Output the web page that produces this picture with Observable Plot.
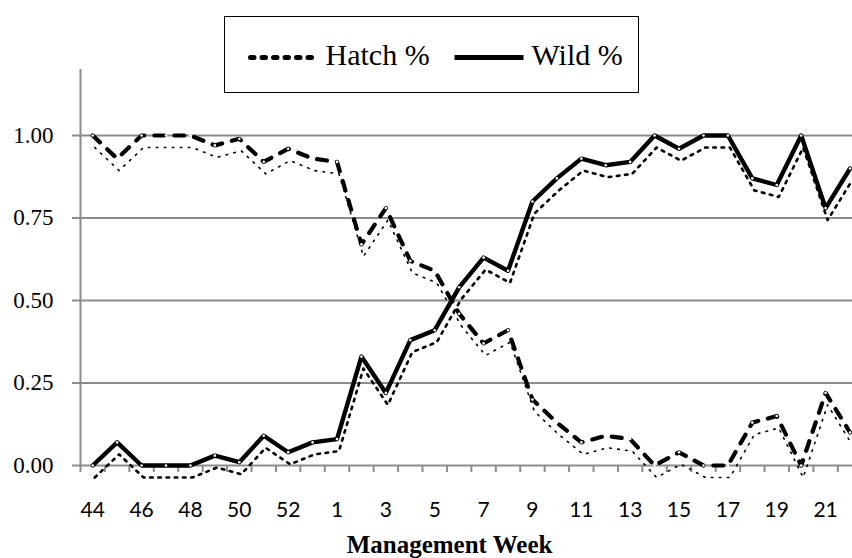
<!DOCTYPE html>
<html>
<head>
<meta charset="utf-8">
<script src="https://cdn.jsdelivr.net/npm/d3@7"></script>
<script src="https://cdn.jsdelivr.net/npm/@observablehq/plot@0.6"></script>
<style>
  html, body { margin: 0; padding: 0; background: white; }
  #wrap { position: relative; width: 852px; height: 558px; overflow: hidden; }
  #legend { position: absolute; left: 224px; top: 16px; width: 413px; height: 75px;
            border: 1.5px solid #000; background: white; box-sizing: content-box; }
  #legend svg { position: absolute; left: 0; top: 0; }
</style>
</head>
<body>
<div id="wrap">
  <div id="chart"></div>
  <div id="legend"></div>
</div>
<script>
const weeks = [44,45,46,47,48,49,50,51,52,53,1,2,3,4,5,6,7,8,9,10,11,12,13,14,15,16,17,18,19,20,21,22];
const hatch = [1.00,0.93,1.00,1.00,1.00,0.97,0.99,0.92,0.96,0.93,0.92,0.67,0.78,0.62,0.59,0.46,0.37,0.41,0.20,0.13,0.07,0.09,0.08,0.00,0.04,0.00,0.00,0.13,0.15,0.00,0.22,0.10];
const wild  = [0.00,0.07,0.00,0.00,0.00,0.03,0.01,0.09,0.04,0.07,0.08,0.33,0.22,0.38,0.41,0.54,0.63,0.59,0.80,0.87,0.93,0.91,0.92,1.00,0.96,1.00,1.00,0.87,0.85,1.00,0.78,0.90];
const yTicks = [0, 0.25, 0.5, 0.75, 1.0];
const seriesNames = ["Hatch %", "Wild %"];

const rows = weeks.map((w, i) => ({i, week: w, hatch: hatch[i], wild: wild[i]}));
const n = weeks.length;
const labelIdx = weeks.map((w, i) => i).filter(i => i % 2 === 0);
const boundaries = d3.range(n + 1).map(k => k - 0.5);
const bw = 24.43;
const grey = "#8c8c8c";

const chart = Plot.plot({
  width: 852,
  height: 558,
  marginLeft: 80,
  marginRight: 0,
  marginTop: 69,
  marginBottom: 93,
  x: {type: "linear", domain: [-0.5, n - 0.5], range: [80, 80 + n * bw], label: null},
  y: {domain: [0, 1.2], range: [465, 69], label: null, axis: null},
  style: {background: "white", overflow: "hidden"},
  marks: [
    Plot.ruleY(yTicks, {stroke: grey, strokeWidth: 2, insetLeft: -8}),
    Plot.ruleX([-0.5], {y1: 0, y2: 1.2, stroke: grey, strokeWidth: 2}),
    Plot.axisX({ticks: boundaries, tickSize: 7, tickFormat: () => "", stroke: grey, strokeWidth: 2, label: null}),
    // x tick labels
    Plot.text(labelIdx, {x: d => d, text: i => String(weeks[i]), frameAnchor: "bottom", dy: 51, lineAnchor: "bottom",
              fontSize: 21, fontFamily: "Lato", fill: "#000"}),
    // y tick labels
    Plot.text(yTicks, {y: d => d, text: d => d.toFixed(2), frameAnchor: "left", textAnchor: "end", dx: -27,
              lineAnchor: "middle", fontSize: 23, fontFamily: "Liberation Serif, Times New Roman, serif", fill: "#000"}),
    // shadows
    Plot.line(rows, {x: "i", y: "hatch", dx: 2, dy: 12, stroke: "#000", strokeWidth: 1.6, strokeDasharray: "1.6,6.4"}),
    Plot.line(rows, {x: "i", y: "wild", dx: 2, dy: 12, stroke: "#000", strokeWidth: 2.6, strokeDasharray: "2.6,5.6"}),
    // main lines
    Plot.line(rows, {x: "i", y: "hatch", stroke: "#000", strokeWidth: 4.2, strokeDasharray: "10,10", strokeLinecap: "round", strokeLinejoin: "round"}),
    Plot.line(rows, {x: "i", y: "wild", stroke: "#000", strokeWidth: 4.4, strokeLinejoin: "round"}),
    Plot.dot(rows, {x: "i", y: "hatch", r: 1.3, fill: "white", stroke: null}),
    Plot.dot(rows, {x: "i", y: "wild", r: 1.3, fill: "white", stroke: null}),
    Plot.text(["Management Week"], {frameAnchor: "bottom", text: d => d, dx: -17, dy: 87, lineAnchor: "bottom",
              fontSize: 25, fontWeight: "bold", fontFamily: "Liberation Serif", fill: "#000"})
  ]
});
document.getElementById("chart").appendChild(chart);

// legend
const lg = d3.select("#legend").append("svg").attr("width", 413).attr("height", 75);
const ox = 225.5, oy = 17.5;
lg.append("line").attr("x1", 251 - ox).attr("x2", 316 - ox).attr("y1", 58 - oy).attr("y2", 58 - oy)
  .attr("stroke", "#000").attr("stroke-width", 5).attr("stroke-dasharray", "3.5,8").attr("stroke-linecap", "round");
lg.append("text").attr("x", 326 - ox).attr("y", 65 - oy).text(seriesNames[0])
  .attr("font-family", "Liberation Serif").attr("font-size", 30).attr("fill", "#000");
lg.append("line").attr("x1", 455 - ox).attr("x2", 524 - ox).attr("y1", 58 - oy).attr("y2", 58 - oy)
  .attr("stroke", "#000").attr("stroke-width", 5);
lg.append("text").attr("x", 532 - ox).attr("y", 65 - oy).text(seriesNames[1])
  .attr("font-family", "Liberation Serif").attr("font-size", 30).attr("fill", "#000");
</script>
</body>
</html>
